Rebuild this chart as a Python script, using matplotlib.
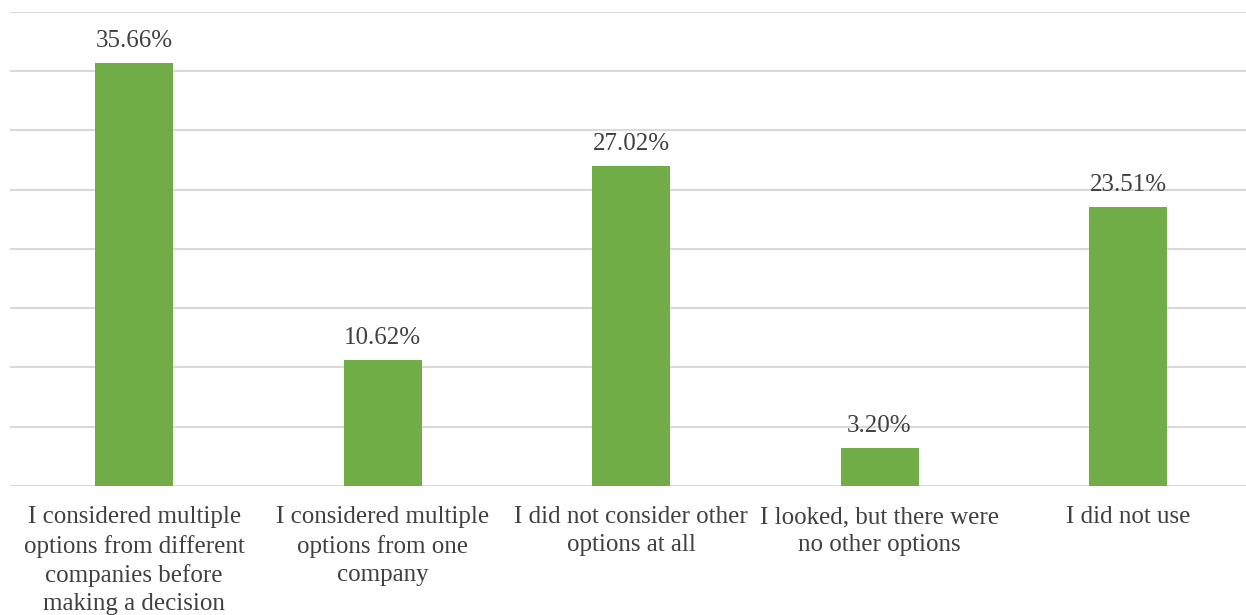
import matplotlib.pyplot as plt

categories = [
    "I considered multiple\noptions from different\ncompanies before\nmaking a decision",
    "I considered multiple\noptions from one\ncompany",
    "I did not consider other\noptions at all",
    "I looked, but there were\nno other options",
    "I did not use",
]
shares = [35.66, 10.62, 27.02, 3.20, 23.51]

plt.rcParams['font.family'] = ['Liberation Serif', 'DejaVu Serif']

fig = plt.figure(figsize=(12.46, 6.15), dpi=100)
ax = fig.add_axes([0.008, 0.2098, 0.997, 0.7707])

x = range(len(shares))
bars = ax.bar(x, shares, width=0.314, color='#70AD47', zorder=3)

for b, v in zip(bars, shares):
    ax.text(b.get_x() + b.get_width() / 2, v + 0.95, f"{v:.2f}%",
            ha='center', va='bottom', fontsize=18, color='#404040')

ax.set_ylim(0, 40)
ax.set_xlim(-0.5, len(shares) - 0.5)
ax.set_yticks(range(0, 41, 5))
ax.yaxis.grid(True, color='#d9d9d9', linewidth=1.5, zorder=0)
ax.tick_params(axis='y', left=False, labelleft=False)
ax.tick_params(axis='x', bottom=False, pad=11)
ax.set_xticks(list(x))
ax.set_xticklabels(categories, fontsize=18, color='#404040', linespacing=1.36)
for s in ax.spines.values():
    s.set_visible(False)

fig.savefig('out.png', dpi=100)
